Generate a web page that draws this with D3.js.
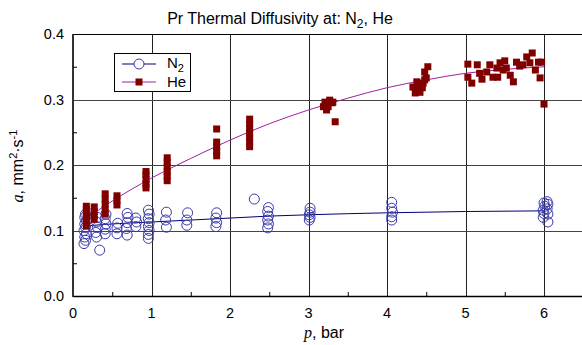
<!DOCTYPE html>
<html>
<head>
<meta charset="utf-8">
<script src="https://cdn.jsdelivr.net/npm/d3@7"></script>
<style>
  body { margin: 0; background: #fff; }
  svg { font-family: "Liberation Sans", Arial, sans-serif; }
</style>
</head>
<body>
<div id="chart"></div>
<script>
// tick labels
const xTicks = [0, 1, 2, 3, 4, 5, 6];
const yTicks = [0.0, 0.1, 0.2, 0.3, 0.4];

// N2 measurements [p, a]
const n2Points = [
  [0.14, 0.080], [0.16, 0.085], [0.15, 0.090], [0.17, 0.095], [0.14, 0.100], [0.16, 0.105],
  [0.15, 0.110], [0.17, 0.115], [0.15, 0.120], [0.16, 0.125], [0.19, 0.118],
  [0.30, 0.090], [0.29, 0.097], [0.31, 0.105], [0.30, 0.113], [0.31, 0.120], [0.34, 0.070],
  [0.41, 0.095], [0.41, 0.102], [0.42, 0.110], [0.41, 0.118], [0.42, 0.125],
  [0.56, 0.095], [0.56, 0.104], [0.57, 0.111],
  [0.69, 0.093], [0.68, 0.103], [0.69, 0.112], [0.70, 0.120], [0.69, 0.126],
  [0.80, 0.106], [0.81, 0.113], [0.80, 0.119],
  [0.96, 0.088], [0.96, 0.094], [0.97, 0.100], [0.96, 0.106], [0.97, 0.112],
  [0.96, 0.118], [0.97, 0.125], [0.96, 0.131],
  [1.19, 0.105], [1.18, 0.116], [1.19, 0.128],
  [1.45, 0.108], [1.45, 0.116], [1.46, 0.127],
  [1.82, 0.106], [1.83, 0.112], [1.82, 0.119], [1.83, 0.127],
  [2.31, 0.148],
  [2.48, 0.104], [2.49, 0.110], [2.48, 0.116], [2.49, 0.122], [2.48, 0.129], [2.49, 0.135],
  [3.01, 0.116], [3.02, 0.120], [3.01, 0.124], [3.02, 0.128], [3.02, 0.134],
  [4.06, 0.116], [4.06, 0.121], [4.07, 0.128], [4.06, 0.134], [4.06, 0.143],
  [5.99, 0.120], [6.00, 0.126], [5.99, 0.131], [6.01, 0.137], [6.00, 0.142],
  [6.05, 0.113], [6.05, 0.125], [6.04, 0.133], [6.05, 0.140], [6.04, 0.144]
];

// He measurements [p, a]
const hePoints = [
  [0.17, 0.107], [0.17, 0.113], [0.17, 0.120], [0.17, 0.126], [0.17, 0.132], [0.17, 0.137],
  [0.27, 0.117], [0.27, 0.123], [0.27, 0.129], [0.27, 0.136],
  [0.41, 0.125], [0.41, 0.132], [0.41, 0.140], [0.41, 0.148], [0.41, 0.156],
  [0.56, 0.139], [0.56, 0.146], [0.56, 0.153],
  [0.93, 0.165], [0.93, 0.171], [0.93, 0.178], [0.93, 0.185], [0.93, 0.190],
  [1.20, 0.176], [1.20, 0.183], [1.20, 0.190], [1.20, 0.197], [1.20, 0.204], [1.20, 0.211],
  [1.83, 0.214], [1.83, 0.221], [1.83, 0.228], [1.83, 0.235], [1.83, 0.255],
  [2.25, 0.228], [2.25, 0.235], [2.25, 0.242], [2.25, 0.249], [2.25, 0.256], [2.25, 0.263], [2.25, 0.270],
  [3.21, 0.296], [3.25, 0.289], [3.30, 0.295], [3.23, 0.284], [3.31, 0.296], [3.19, 0.289],
  [3.34, 0.266], [3.27, 0.299],
  [4.33, 0.319], [4.38, 0.327], [4.42, 0.311], [4.46, 0.325], [4.48, 0.330], [4.45, 0.318],
  [4.36, 0.310], [4.48, 0.342], [4.52, 0.350], [4.40, 0.319], [4.50, 0.333],
  [5.03, 0.354], [5.15, 0.353], [5.03, 0.334], [5.08, 0.325], [5.18, 0.340], [5.21, 0.331],
  [5.27, 0.342], [5.31, 0.353], [5.35, 0.334], [5.41, 0.334], [5.44, 0.356], [5.50, 0.359],
  [5.52, 0.348], [5.57, 0.337], [5.61, 0.327], [5.65, 0.357], [5.69, 0.351], [5.73, 0.353],
  [5.78, 0.365], [5.85, 0.371], [5.82, 0.356], [5.89, 0.345], [5.93, 0.357], [5.97, 0.357],
  [5.95, 0.333], [6.00, 0.293], [5.48, 0.345], [5.40, 0.348]
];

// fitted curves
const n2FitP = [0.15, 0.5, 1, 1.5, 2, 2.5, 3, 4, 5, 6];
const n2FitA = [0.107, 0.110, 0.113, 0.116, 0.119, 0.122, 0.124, 0.127, 0.129, 0.130];
const heFitP = [0.15, 0.5, 1, 1.5, 2, 2.5, 3, 3.5, 4, 4.5, 5, 5.5, 6];
const heFitA = [0.117, 0.145, 0.180, 0.210, 0.238, 0.263, 0.284, 0.302, 0.318, 0.330, 0.340, 0.346, 0.350];

const W = 582, H = 345;
const svg = d3.select("#chart").append("svg").attr("width", W).attr("height", H);

const x = d3.scaleLinear().domain([0, 6.5]).range([73, 583.25]);
const y = d3.scaleLinear().domain([0, 0.4]).range([296, 34]);

// grid
svg.append("g").selectAll("line").data(xTicks.slice(1)).join("line")
  .attr("x1", d => Math.round(x(d)) + 0.5).attr("x2", d => Math.round(x(d)) + 0.5)
  .attr("y1", y(0.4)).attr("y2", y(0))
  .attr("stroke", "#222").attr("stroke-width", 1);
svg.append("g").selectAll("line").data(yTicks.slice(1, -1)).join("line")
  .attr("x1", x(0)).attr("x2", W)
  .attr("y1", d => Math.round(y(d)) + 0.5).attr("y2", d => Math.round(y(d)) + 0.5)
  .attr("stroke", "#444").attr("stroke-width", 1);

// frame
svg.append("line").attr("x1", x(0)).attr("x2", W).attr("y1", 34.5).attr("y2", 34.5).attr("stroke", "#000");
svg.append("line").attr("x1", x(0)).attr("x2", W).attr("y1", 296.5).attr("y2", 296.5).attr("stroke", "#000").attr("stroke-width", 1.5);
svg.append("line").attr("x1", 73).attr("x2", 73).attr("y1", 34).attr("y2", 297).attr("stroke", "#333").attr("stroke-width", 2);

// axes
const xAxis = svg.append("g").attr("transform", "translate(0,296)")
  .call(d3.axisBottom(x).tickValues(d3.range(0.5, 6.5, 1)).tickSize(-4).tickFormat(""));
xAxis.select(".domain").remove();
svg.append("g").selectAll("text").data(xTicks).join("text")
  .attr("x", d => x(d)).attr("y", 318).attr("text-anchor", "middle")
  .attr("font-size", 14.5).text(d => d);

const yAxis = svg.append("g").attr("transform", "translate(73,0)")
  .call(d3.axisLeft(y).tickValues([0.05, 0.15, 0.25, 0.35]).tickSize(-4).tickFormat(""));
yAxis.select(".domain").remove();
svg.append("g").selectAll("text").data(yTicks).join("text")
  .attr("x", 64).attr("y", d => y(d) + 5).attr("text-anchor", "end")
  .attr("font-size", 14.5).text(d => d.toFixed(1));

// fit lines
const line = d3.line().x(d => x(d[0])).y(d => y(d[1])).curve(d3.curveMonotoneX);
svg.append("path").datum(n2FitP.map((p, i) => [p, n2FitA[i]]))
  .attr("d", line).attr("fill", "none").attr("stroke", "#000080").attr("stroke-width", 1);
svg.append("path").datum(heFitP.map((p, i) => [p, heFitA[i]]))
  .attr("d", line).attr("fill", "none").attr("stroke", "#a0209f").attr("stroke-width", 1);

// markers
svg.append("g").selectAll("circle").data(n2Points).join("circle")
  .attr("cx", d => x(d[0])).attr("cy", d => y(d[1])).attr("r", 5)
  .attr("fill", "none").attr("stroke", "#3a3aa8").attr("stroke-width", 1);
svg.append("g").selectAll("rect").data(hePoints).join("rect")
  .attr("x", d => x(d[0]) - 3.5).attr("y", d => y(d[1]) - 3.5)
  .attr("width", 7).attr("height", 7).attr("fill", "#800000");

// legend
const lg = svg.append("g");
lg.append("rect").attr("x", 114.5).attr("y", 53.5).attr("width", 76).attr("height", 38)
  .attr("fill", "#fff").attr("stroke", "#000");
lg.append("line").attr("x1", 122).attr("x2", 156).attr("y1", 64).attr("y2", 64).attr("stroke", "#000080");
lg.append("circle").attr("cx", 139).attr("cy", 64).attr("r", 5).attr("fill", "#fff").attr("stroke", "#3a3aa8");
lg.append("line").attr("x1", 122).attr("x2", 156).attr("y1", 82).attr("y2", 82).attr("stroke", "#a0209f");
lg.append("rect").attr("x", 135.5).attr("y", 78.5).attr("width", 7).attr("height", 7).attr("fill", "#800000");
const t1 = lg.append("text").attr("x", 167).attr("y", 68).attr("font-size", 15);
t1.append("tspan").text("N");
t1.append("tspan").attr("font-size", 11).attr("dy", 4).text("2");
lg.append("text").attr("x", 167).attr("y", 87).attr("font-size", 15).text("He");

// title
const title = svg.append("text").attr("x", 280).attr("y", 24).attr("text-anchor", "middle").attr("font-size", 16);
title.append("tspan").text("Pr Thermal Diffusivity at: N");
title.append("tspan").attr("font-size", 12).attr("dy", 4).text("2");
title.append("tspan").attr("dy", -4).text(", He");

// axis titles
const xl = svg.append("text").attr("x", 324).attr("y", 338).attr("text-anchor", "middle").attr("font-size", 16);
xl.append("tspan").attr("font-family", "Liberation Serif, serif").attr("font-style", "italic").text("p");
xl.append("tspan").text(",  bar");

const yl = svg.append("text").attr("transform", "translate(23,166) rotate(-90)")
  .attr("text-anchor", "middle").attr("font-size", 16);
yl.append("tspan").attr("font-family", "Liberation Serif, serif").attr("font-style", "italic").text("a");
yl.append("tspan").text(",  mm");
yl.append("tspan").attr("font-size", 11).attr("dy", -6).text("2");
yl.append("tspan").attr("dy", 6).text("·s");
yl.append("tspan").attr("font-size", 11).attr("dy", -6).text("-1");
</script>
</body>
</html>
